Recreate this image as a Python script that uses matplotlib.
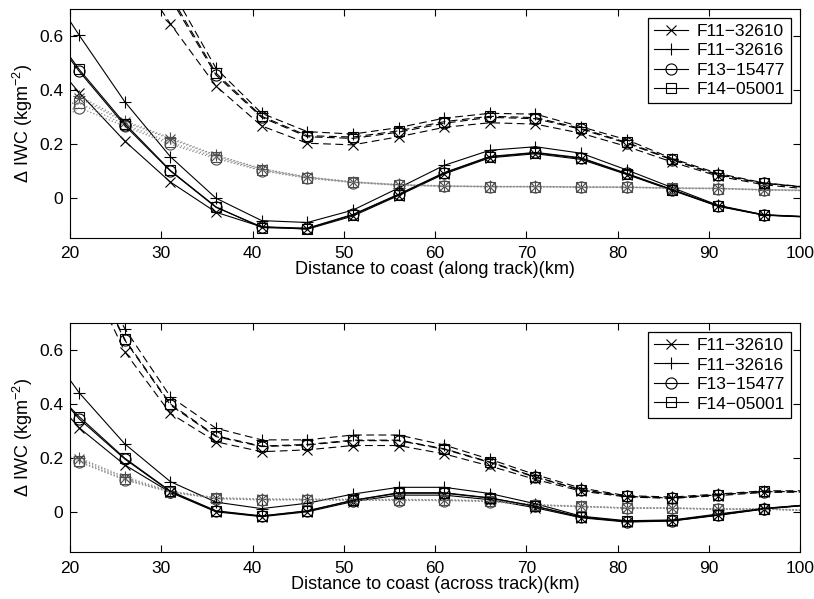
import numpy as np
import matplotlib
matplotlib.use('Agg')
import matplotlib.pyplot as plt

plt.rcParams['font.family'] = ['Liberation Sans', 'DejaVu Sans']
plt.rcParams['mathtext.fontset'] = 'custom'
plt.rcParams['mathtext.rm'] = 'Liberation Sans'
plt.rcParams['mathtext.it'] = 'Liberation Sans:italic'

# distance to coast (km); first and last entries are the line ends, the rest carry markers
dist = [20, 21, 26, 31, 36, 41, 46, 51, 56, 61, 66, 71, 76, 81, 86, 91, 96, 100]

names = ['F11\u221232610', 'F11\u221232616', 'F13\u221215477', 'F14\u221205001']
markers = ['x', '+', 'o', 's']
msizes = [7, 9, 8, 7]

# ---- along track ----
along_solid = [
    [0.43, 0.39, 0.21, 0.058, -0.054, -0.108, -0.117, -0.068, 0.008, 0.088, 0.148, 0.163, 0.142, 0.086, 0.027, -0.032, -0.065, -0.071],
    [0.655, 0.603, 0.356, 0.152, -0.002, -0.085, -0.092, -0.046, 0.036, 0.12, 0.176, 0.189, 0.165, 0.103, 0.037, -0.028, -0.063, -0.069],
    [0.515, 0.469, 0.268, 0.099, -0.036, -0.108, -0.113, -0.062, 0.013, 0.093, 0.153, 0.168, 0.148, 0.09, 0.03, -0.031, -0.064, -0.07],
    [0.523, 0.476, 0.275, 0.101, -0.034, -0.111, -0.115, -0.064, 0.011, 0.091, 0.151, 0.166, 0.146, 0.088, 0.029, -0.03, -0.064, -0.07],
]
along_dashed = [
    [1.2, 1.15, 0.9, 0.645, 0.414, 0.266, 0.202, 0.196, 0.226, 0.261, 0.278, 0.273, 0.239, 0.19, 0.132, 0.08, 0.048, 0.035],
    [1.4, 1.35, 1.05, 0.78, 0.48, 0.313, 0.245, 0.236, 0.26, 0.295, 0.313, 0.31, 0.263, 0.215, 0.145, 0.09, 0.055, 0.042],
    [1.35, 1.3, 1.0, 0.74, 0.455, 0.298, 0.226, 0.22, 0.243, 0.276, 0.298, 0.293, 0.254, 0.202, 0.14, 0.084, 0.053, 0.04],
    [1.37, 1.32, 1.02, 0.75, 0.462, 0.302, 0.23, 0.225, 0.248, 0.282, 0.302, 0.297, 0.257, 0.205, 0.142, 0.086, 0.054, 0.041],
]
along_dotted = [
    [0.34, 0.37, 0.28, 0.218, 0.155, 0.106, 0.076, 0.058, 0.048, 0.043, 0.041, 0.041, 0.04, 0.039, 0.036, 0.035, 0.03, 0.028],
    [0.34, 0.378, 0.285, 0.222, 0.158, 0.108, 0.077, 0.059, 0.049, 0.044, 0.042, 0.042, 0.04, 0.04, 0.036, 0.035, 0.03, 0.028],
    [0.31, 0.334, 0.265, 0.198, 0.145, 0.1, 0.072, 0.056, 0.046, 0.042, 0.04, 0.04, 0.038, 0.038, 0.034, 0.033, 0.028, 0.026],
    [0.32, 0.35, 0.272, 0.205, 0.15, 0.102, 0.074, 0.057, 0.047, 0.043, 0.041, 0.041, 0.039, 0.039, 0.035, 0.034, 0.029, 0.027],
]

# ---- across track ----
across_solid = [
    [0.35, 0.312, 0.174, 0.072, 0.0, -0.018, 0.0, 0.038, 0.062, 0.062, 0.045, 0.015, -0.022, -0.038, -0.034, -0.013, 0.01, 0.022],
    [0.489, 0.442, 0.252, 0.112, 0.036, 0.012, 0.032, 0.066, 0.091, 0.091, 0.068, 0.03, -0.016, -0.033, -0.03, -0.008, 0.013, 0.024],
    [0.384, 0.345, 0.196, 0.075, 0.002, -0.016, 0.003, 0.042, 0.069, 0.069, 0.051, 0.02, -0.02, -0.036, -0.033, -0.012, 0.011, 0.023],
    [0.388, 0.353, 0.199, 0.077, 0.004, -0.015, 0.004, 0.043, 0.071, 0.071, 0.052, 0.021, -0.019, -0.035, -0.032, -0.011, 0.012, 0.023],
]
across_dashed = [
    [1.05, 0.95, 0.594, 0.365, 0.26, 0.223, 0.23, 0.246, 0.246, 0.215, 0.17, 0.12, 0.077, 0.055, 0.05, 0.06, 0.072, 0.073],
    [1.1, 1.0, 0.68, 0.427, 0.31, 0.267, 0.267, 0.285, 0.285, 0.248, 0.195, 0.138, 0.088, 0.06, 0.055, 0.066, 0.078, 0.078],
    [1.06, 0.98, 0.637, 0.396, 0.279, 0.242, 0.248, 0.264, 0.264, 0.232, 0.183, 0.128, 0.081, 0.057, 0.051, 0.063, 0.075, 0.075],
    [1.07, 0.99, 0.64, 0.4, 0.282, 0.244, 0.25, 0.266, 0.266, 0.234, 0.185, 0.13, 0.082, 0.058, 0.052, 0.064, 0.076, 0.076],
]
across_dotted = [
    [0.2, 0.195, 0.125, 0.075, 0.05, 0.046, 0.046, 0.045, 0.044, 0.044, 0.04, 0.026, 0.02, 0.014, 0.014, 0.01, 0.011, 0.006],
    [0.205, 0.2, 0.13, 0.077, 0.053, 0.048, 0.048, 0.047, 0.046, 0.045, 0.041, 0.027, 0.021, 0.015, 0.015, 0.011, 0.012, 0.007],
    [0.19, 0.185, 0.118, 0.073, 0.049, 0.044, 0.045, 0.043, 0.042, 0.042, 0.038, 0.024, 0.019, 0.013, 0.013, 0.009, 0.01, 0.005],
    [0.193, 0.188, 0.12, 0.074, 0.05, 0.045, 0.045, 0.044, 0.043, 0.043, 0.039, 0.025, 0.02, 0.014, 0.014, 0.01, 0.01, 0.006],
]


def draw(ax, solid, dashed, dotted, xlabel):
    marks = slice(1, -1)
    for i in range(4):
        ax.plot(dist, dotted[i], ':', color='0.55', lw=0.9, marker=markers[i],
                ms=msizes[i], mfc='none', mec='0.3', mew=0.8, markevery=marks)
        ax.plot(dist, dashed[i], '--', color='k', lw=0.8, dashes=(7, 4), marker=markers[i],
                ms=msizes[i], mfc='none', mec='k', mew=0.8, markevery=marks)
        ax.plot(dist, solid[i], '-', color='k', lw=0.8, marker=markers[i],
                ms=msizes[i], mfc='none', mec='k', mew=0.8, markevery=marks,
                label=names[i])
    ax.set_xlim(20, 100)
    ax.set_ylim(-0.15, 0.7)
    ax.set_xticks([20, 30, 40, 50, 60, 70, 80, 90, 100])
    ax.set_yticks([0, 0.2, 0.4, 0.6])
    ax.set_yticklabels(['0', '0.2', '0.4', '0.6'])
    ax.tick_params(direction='in', top=True, right=True, length=5, labelsize=12.5)
    ax.tick_params(axis='x', pad=6)
    ax.tick_params(axis='y', pad=5)
    ax.set_xlabel(xlabel, fontsize=13, labelpad=0)
    ax.set_ylabel(r'$\Delta$ IWC (kgm$^{-2}$)', fontsize=13, labelpad=3)
    leg = ax.legend(loc='upper right', fontsize=12.5, handlelength=2.0,
                    labelspacing=0.25, borderpad=0.35, handletextpad=0.5,
                    borderaxespad=0.5, fancybox=False, framealpha=1)
    leg.get_frame().set_edgecolor('k')
    leg.get_frame().set_linewidth(0.9)


fig, (ax1, ax2) = plt.subplots(2, 1, figsize=(8.14, 5.99), dpi=100)
fig.subplots_adjust(left=0.086, right=0.983, top=0.985, bottom=0.078, hspace=0.371)

draw(ax1, along_solid, along_dashed, along_dotted, 'Distance to coast (along track)(km)')
draw(ax2, across_solid, across_dashed, across_dotted, 'Distance to coast (across track)(km)')

plt.savefig('out.png', dpi=100)
